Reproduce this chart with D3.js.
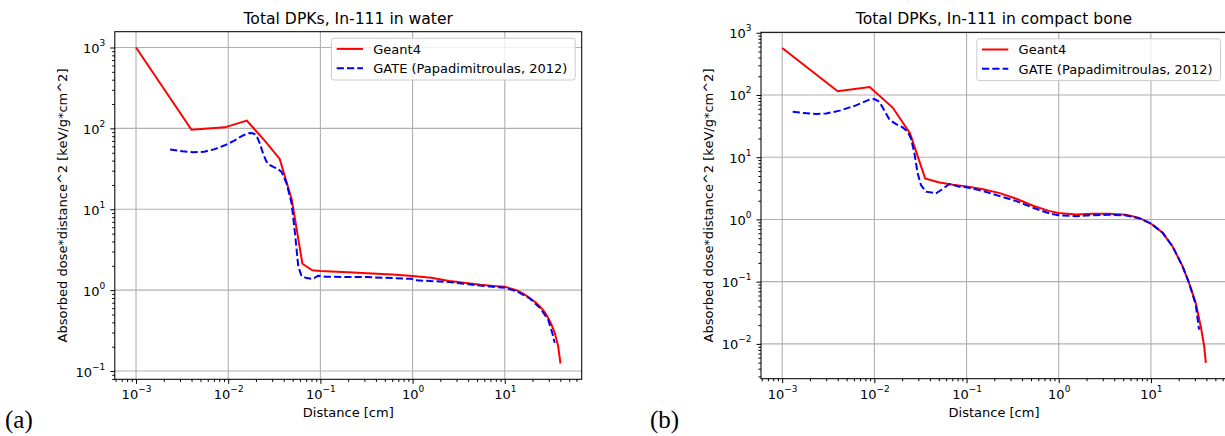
<!DOCTYPE html>
<html>
<head>
<meta charset="utf-8">
<script src="https://cdn.jsdelivr.net/npm/d3@7"></script>
<style>
  body { margin: 0; background: #fff; }
  svg text { font-family: "DejaVu Sans", sans-serif; fill: #000; }
</style>
</head>
<body>
<svg id="chart" width="1225" height="436"></svg>
<script>
// data (distance in cm, dose*distance^2)
const waterG4X = [0.001, 0.004, 0.0092, 0.0159, 0.0245, 0.0362, 0.049, 0.0638, 0.0817, 0.1, 0.2, 0.32, 0.6, 1.0, 1.6, 2.5, 4.0, 5.4, 7.5, 10, 13.4, 16, 18.7, 21.5, 24, 27, 29.5, 32, 34.8, 37.9, 40.2];
const waterG4Y = [1000, 96, 103, 125, 72, 42, 13, 2.12, 1.76, 1.73, 1.67, 1.62, 1.56, 1.5, 1.42, 1.3, 1.22, 1.17, 1.13, 1.1, 1.0, 0.9, 0.8, 0.71, 0.63, 0.54, 0.455, 0.38, 0.297, 0.204, 0.124];

const waterGateX = [0.00234, 0.0032, 0.0042, 0.0055, 0.007, 0.0092, 0.0115, 0.0134, 0.0155, 0.0172, 0.0185, 0.0195, 0.0208, 0.0221, 0.024, 0.0261, 0.0285, 0.0308, 0.0345, 0.0379, 0.043, 0.0487, 0.053, 0.0575, 0.0625, 0.0708, 0.0822, 0.0948, 0.112, 0.2, 0.316, 0.6, 0.98, 1.02, 2.53, 5.36, 10, 13.4, 18.7, 24, 29.5, 32.7, 34.8];
const waterGateY = [54.7, 52, 50.7, 51.5, 55, 61.8, 70, 78, 85, 87.8, 87, 84.4, 76, 64.7, 48, 38.6, 35, 33.5, 31.5, 29, 20.9, 11.9, 5.07, 1.97, 1.49, 1.41, 1.38, 1.51, 1.47, 1.45, 1.45, 1.41, 1.38, 1.33, 1.26, 1.14, 1.07, 0.97, 0.79, 0.605, 0.434, 0.297, 0.224];

const boneG4X = [0.001, 0.004, 0.0089, 0.0158, 0.0244, 0.0355, 0.0496, 0.0708, 0.1, 0.151, 0.229, 0.347, 0.526, 0.796, 1.0, 1.54, 2.34, 3.55, 5.37, 7.48, 10, 13.4, 17.1, 22, 25.9, 30.6, 34.7, 37.8, 39.4];
const boneG4Y = [568, 115, 134.5, 62.8, 24, 4.57, 3.95, 3.6, 3.4, 3.05, 2.65, 2.15, 1.66, 1.36, 1.27, 1.2, 1.23, 1.24, 1.19, 1.06, 0.86, 0.61, 0.372, 0.178, 0.0956, 0.0457, 0.0192, 0.0092, 0.00494];

const boneGateX = [0.0013, 0.0017, 0.00234, 0.003, 0.0042, 0.0063, 0.0088, 0.01, 0.0113, 0.0128, 0.0146, 0.0172, 0.0203, 0.023, 0.025, 0.0272, 0.0295, 0.032, 0.0363, 0.0467, 0.053, 0.0652, 0.0837, 0.1, 0.151, 0.229, 0.347, 0.526, 0.796, 1.0, 1.54, 2.34, 3.55, 5.37, 7.48, 10, 13.4, 17.1, 22, 25.9, 30.6, 33.3];
const boneGateY = [53.6, 51.5, 49.3, 50.5, 56, 68, 84, 86, 78, 57, 40, 34, 30.1, 25.6, 20, 11.5, 5.5, 3.57, 2.8, 2.63, 2.97, 3.71, 3.36, 3.3, 2.86, 2.37, 1.97, 1.54, 1.25, 1.17, 1.13, 1.17, 1.19, 1.16, 1.04, 0.86, 0.61, 0.372, 0.178, 0.0956, 0.043, 0.0169];

const seriesNames = ["Geant4", "GATE (Papadimitroulas, 2012)"];
const seriesColors = ["#ff0000", "#0000ff"];
const panelTitles = ["Total DPKs, In-111 in water", "Total DPKs, In-111 in compact bone"];
const panelTags = ["(a)", "(b)"];
const xLabel = "Distance [cm]";
const yLabel = "Absorbed dose*distance^2 [keV/g*cm^2]";

const svg = d3.select("#chart");

const panels = [
  { left: 114.8, right: 581.7, top: 31.7, bottom: 379.3, tagX: 5, ylabX: 67,
    series: [zip(waterG4X, waterG4Y), zip(waterGateX, waterGateY)] },
  { left: 761, right: 1227, top: 32.3, bottom: 378.7, tagX: 650, ylabX: 713,
    series: [zip(boneG4X, boneG4Y), zip(boneGateX, boneGateY)] }
];

function zip(xs, ys) {
  return xs.map((x, i) => ({ x: x, y: ys[i] }));
}

// matplotlib style autoscale: 5% margin in log space
function logPad(values) {
  const lo = Math.log10(d3.min(values)), hi = Math.log10(d3.max(values));
  const m = (hi - lo) * 0.05;
  return [Math.pow(10, lo - m), Math.pow(10, hi + m)];
}

function majorTicks(domain) {
  const out = [];
  for (let e = Math.ceil(Math.log10(domain[0]) - 1e-9); e <= Math.floor(Math.log10(domain[1]) + 1e-9); e++) out.push(e);
  return out;
}

function minorTicks(domain) {
  const out = [];
  for (let e = Math.floor(Math.log10(domain[0])); e <= Math.ceil(Math.log10(domain[1])); e++) {
    for (let k = 2; k <= 9; k++) {
      const v = k * Math.pow(10, e);
      if (v >= domain[0] && v <= domain[1]) out.push(v);
    }
  }
  return out;
}

function powLabel(text, e) {
  text.text(null);
  text.append("tspan").text("10");
  text.append("tspan").attr("dy", -7).attr("font-size", 9)
    .text(e < 0 ? "\u2212" + (-e) : String(e));
}

function drawPanel(p, idx) {
  const allX = p.series.flatMap(s => s.map(d => d.x));
  const allY = p.series.flatMap(s => s.map(d => d.y));

  const x = d3.scaleLog().domain(logPad(allX)).range([p.left, p.right]);
  const y = d3.scaleLog().domain(logPad(allY)).range([p.bottom, p.top]);

  const g = svg.append("g");
  const xMaj = majorTicks(x.domain()), yMaj = majorTicks(y.domain());

  // grid
  g.append("g").selectAll("line").data(xMaj).enter().append("line")
    .attr("x1", e => x(Math.pow(10, e))).attr("x2", e => x(Math.pow(10, e)))
    .attr("y1", p.top).attr("y2", p.bottom)
    .attr("stroke", "#b0b0b0").attr("stroke-width", 1.1);
  g.append("g").selectAll("line").data(yMaj).enter().append("line")
    .attr("y1", e => y(Math.pow(10, e))).attr("y2", e => y(Math.pow(10, e)))
    .attr("x1", p.left).attr("x2", p.right)
    .attr("stroke", "#b0b0b0").attr("stroke-width", 1.1);

  // curves
  const clipId = "clip" + idx;
  svg.append("clipPath").attr("id", clipId).append("rect")
    .attr("x", p.left).attr("y", p.top)
    .attr("width", p.right - p.left).attr("height", p.bottom - p.top);

  const line = d3.line().x(d => x(d.x)).y(d => y(d.y));
  p.series.forEach((s, i) => {
    g.append("path").datum(s)
      .attr("d", line)
      .attr("fill", "none")
      .attr("clip-path", `url(#${clipId})`)
      .attr("stroke", seriesColors[i])
      .attr("stroke-width", 2)
      .attr("stroke-dasharray", i === 1 ? "7.2,3.1" : null);
  });

  // frame
  g.append("rect")
    .attr("x", p.left).attr("y", p.top)
    .attr("width", p.right - p.left).attr("height", p.bottom - p.top)
    .attr("fill", "none").attr("stroke", "#000").attr("stroke-width", 1.05);

  // axes
  const xAxis = g.append("g").attr("transform", `translate(0,${p.bottom})`)
    .call(d3.axisBottom(x).tickValues(xMaj.map(e => Math.pow(10, e))).tickSize(4.5).tickFormat(""));
  xAxis.selectAll(".tick").append("text")
    .attr("y", 20).attr("text-anchor", "middle").attr("font-size", 13)
    .each(function (v) { powLabel(d3.select(this), Math.round(Math.log10(v))); });
  g.append("g").attr("transform", `translate(0,${p.bottom})`)
    .call(d3.axisBottom(x).tickValues(minorTicks(x.domain())).tickSize(2.6).tickFormat(""));

  const yAxis = g.append("g").attr("transform", `translate(${p.left},0)`)
    .call(d3.axisLeft(y).tickValues(yMaj.map(e => Math.pow(10, e))).tickSize(4.5).tickFormat(""));
  yAxis.selectAll(".tick").append("text")
    .attr("x", -9.5).attr("y", 5).attr("text-anchor", "end").attr("font-size", 13)
    .each(function (v) { powLabel(d3.select(this), Math.round(Math.log10(v))); });
  g.append("g").attr("transform", `translate(${p.left},0)`)
    .call(d3.axisLeft(y).tickValues(minorTicks(y.domain())).tickSize(2.6).tickFormat(""));

  g.selectAll(".domain").remove();
  g.selectAll(".tick line").attr("stroke", "#000").attr("stroke-width", 1);

  // texts
  const cx = (p.left + p.right) / 2;
  g.append("text").attr("x", cx).attr("y", 24.3)
    .attr("text-anchor", "middle").attr("font-size", 15.6).text(panelTitles[idx]);
  g.append("text").attr("x", cx).attr("y", 417)
    .attr("text-anchor", "middle").attr("font-size", 13).text(xLabel);
  g.append("text")
    .attr("transform", `translate(${p.ylabX},${(p.top + p.bottom) / 2}) rotate(-90)`)
    .attr("text-anchor", "middle").attr("font-size", 13).text(yLabel);
  g.append("text").attr("x", p.tagX).attr("y", 428)
    .style("font-family", '"Liberation Serif", serif').attr("font-size", 25)
    .text(panelTags[idx]);

  // legend
  const lw = 243.7, lx = p.right - 6.5 - lw, ly = p.top + 6.5;
  const leg = g.append("g");
  leg.append("rect").attr("x", lx).attr("y", ly).attr("width", lw).attr("height", 41.8)
    .attr("rx", 2.6).attr("fill", "#fff").attr("fill-opacity", 0.8)
    .attr("stroke", "#cccccc").attr("stroke-width", 1);
  seriesNames.forEach((name, i) => {
    const ry = ly + 10.7 + i * 19.3;
    leg.append("line").attr("x1", lx + 5.2).attr("x2", lx + 31.5)
      .attr("y1", ry).attr("y2", ry)
      .attr("stroke", seriesColors[i]).attr("stroke-width", 2)
      .attr("stroke-dasharray", i === 1 ? "7.2,3.1" : null);
    leg.append("text").attr("x", lx + 41.8).attr("y", ry + 4.7)
      .attr("font-size", 13).text(name);
  });
}

panels.forEach(drawPanel);
</script>
</body>
</html>
